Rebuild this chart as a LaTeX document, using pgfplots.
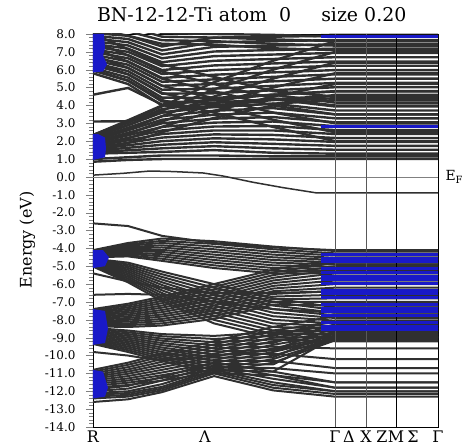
\documentclass[border=0pt]{standalone}
\usepackage{pgfplots}
\pgfplotsset{compat=1.18}
\usepackage{pgfplotstable}
\usepackage{fontspec}
\setmainfont{DejaVu Serif}
\definecolor{fat}{RGB}{25,25,200}
\definecolor{band}{RGB}{48,48,48}

% conduction bands: x, then 52 bands
\pgfplotstableread[header=false]{
0 1.30 1.38 1.46 1.54 1.62 1.70 1.78 1.86 1.94 2.02 2.10 2.18 2.26 2.34 5.80 5.95 6.10 6.25 6.40 6.55 6.70 6.85 7.00 7.15 7.30 7.45 7.60 7.75 7.90 8.05 8.30 8.60 8.90 9.20 9.50 9.80 6.00 6.40 6.80 7.20 7.60 8.00 1.40 1.60 1.80 2.00 2.20 2.35 0.85 1.00 3.10 4.60
35 1.35 1.49 1.63 1.77 1.91 2.05 2.19 2.33 2.47 2.61 2.75 2.89 3.03 3.17 5.20 5.38 5.56 5.74 5.92 6.10 6.28 6.46 6.64 6.82 7.00 7.18 7.36 7.54 7.72 7.90 7.90 8.15 8.40 8.65 8.90 9.15 5.40 5.75 6.10 6.45 6.80 7.15 1.90 2.15 2.40 2.65 2.90 3.10 0.95 1.10 3.12 4.98
69 1.40 1.60 1.80 2.00 2.20 2.40 2.60 2.80 3.00 3.20 3.40 3.60 3.80 4.00 4.00 4.22 4.44 4.66 4.88 5.10 5.32 5.54 5.76 5.98 6.20 6.42 6.64 6.86 7.08 7.30 7.45 7.65 7.85 8.05 8.25 8.45 4.30 4.70 5.10 5.50 5.90 6.30 2.50 2.80 3.10 3.40 3.70 3.95 1.00 1.20 3.60 4.05
121 1.50 1.72 1.94 2.16 2.38 2.60 2.82 3.04 3.26 3.48 3.70 3.92 4.14 4.36 3.90 4.16 4.42 4.68 4.94 5.20 5.46 5.72 5.98 6.24 6.50 6.76 7.02 7.28 7.54 7.80 7.40 7.60 7.80 8.00 8.20 8.40 3.60 4.00 4.40 4.80 5.20 5.60 3.30 3.70 4.10 4.50 4.90 5.30 1.00 1.20 4.00 4.30
180 1.35 1.60 1.85 2.10 2.35 2.60 2.85 3.10 3.35 3.60 3.85 4.10 4.35 4.60 4.10 4.35 4.60 4.85 5.10 5.35 5.60 5.85 6.10 6.35 6.60 6.85 7.10 7.35 7.60 7.85 7.20 7.45 7.70 7.95 8.20 8.45 2.80 3.20 3.60 4.00 4.40 4.80 4.00 4.50 5.00 5.50 6.00 6.50 1.00 1.15 4.30 4.60
242 1.30 1.52 1.74 1.96 2.18 2.40 2.62 2.84 3.06 3.28 3.50 3.72 3.94 4.16 4.30 4.54 4.78 5.02 5.26 5.50 5.74 5.98 6.22 6.46 6.70 6.94 7.18 7.42 7.66 7.90 7.10 7.35 7.60 7.85 8.10 8.35 2.00 2.50 3.00 3.50 4.00 4.50 4.60 5.20 5.80 6.40 7.00 7.60 1.00 1.15 4.40 4.80
345 1.30 1.52 1.74 1.96 2.18 2.40 2.62 2.84 3.06 3.28 3.50 3.72 3.94 4.16 4.30 4.54 4.78 5.02 5.26 5.50 5.74 5.98 6.22 6.46 6.70 6.94 7.18 7.42 7.66 7.90 7.10 7.35 7.60 7.85 8.10 8.35 2.00 2.50 3.00 3.50 4.00 4.50 4.60 5.20 5.80 6.40 7.00 7.60 1.00 1.15 4.40 4.80
}\cond

% valence bands: x, then 43 bands
\pgfplotstableread[header=false]{
0 -2.60 -4.10 -4.18 -4.26 -4.34 -4.42 -4.50 -4.58 -4.66 -4.74 -4.82 -4.90 -4.98 -7.40 -7.55 -7.70 -7.85 -8.00 -8.15 -8.30 -8.45 -8.60 -8.75 -8.90 -9.05 -9.20 -9.35 -10.80 -11.00 -11.20 -11.40 -11.60 -11.80 -11.90 -12.00 -12.10 -12.20 -12.30 -12.40 -12.60 -5.40 -6.60 -9.80
35 -2.75 -3.70 -3.85 -4.00 -4.15 -4.30 -4.45 -4.80 -5.00 -5.20 -5.40 -5.60 -5.80 -7.10 -7.30 -7.50 -7.70 -7.90 -8.10 -8.30 -8.60 -8.80 -9.00 -9.20 -9.40 -9.60 -9.80 -10.40 -10.65 -10.90 -11.15 -11.40 -11.65 -11.70 -11.85 -12.00 -12.10 -12.20 -12.30 -12.45 -5.85 -6.55 -10.00
69 -3.30 -3.45 -3.70 -3.95 -4.20 -4.45 -4.70 -5.30 -5.60 -5.90 -6.20 -6.50 -6.80 -6.70 -6.95 -7.20 -7.45 -7.70 -7.95 -8.20 -8.80 -9.05 -9.30 -9.55 -9.80 -10.05 -10.30 -9.90 -10.20 -10.50 -10.80 -11.10 -11.40 -11.20 -11.40 -11.60 -11.75 -11.85 -11.95 -12.05 -6.20 -6.60 -10.30
121 -3.70 -3.60 -3.90 -4.20 -4.50 -4.80 -5.10 -6.00 -6.40 -6.80 -7.20 -7.60 -8.00 -6.00 -6.30 -6.60 -6.90 -7.20 -7.50 -7.80 -8.90 -9.25 -9.60 -9.95 -10.30 -10.65 -11.00 -9.20 -9.55 -9.90 -10.25 -10.60 -10.95 -10.40 -10.55 -10.70 -10.80 -10.90 -11.00 -11.15 -6.50 -7.00 -10.00
180 -3.95 -3.90 -4.20 -4.50 -4.80 -5.10 -5.40 -6.80 -7.20 -7.60 -8.00 -8.40 -8.80 -5.20 -5.50 -5.80 -6.10 -6.40 -6.70 -7.00 -8.70 -9.10 -9.50 -9.90 -10.30 -10.70 -11.10 -8.40 -8.80 -9.20 -9.60 -10.00 -10.40 -10.90 -11.10 -11.30 -11.50 -11.65 -11.80 -11.95 -6.50 -7.40 -9.70
242 -4.10 -4.15 -4.40 -4.65 -4.90 -5.15 -5.40 -7.30 -7.60 -7.90 -8.20 -8.50 -8.80 -4.60 -5.00 -5.40 -5.80 -6.20 -6.60 -7.00 -8.60 -9.20 -9.60 -10.20 -10.70 -11.00 -11.50 -7.80 -8.30 -8.70 -8.90 -9.05 -9.15 -11.50 -11.80 -11.80 -12.00 -12.00 -12.15 -12.30 -6.40 -7.60 -9.00
345 -4.10 -4.15 -4.40 -4.65 -4.90 -5.15 -5.40 -7.30 -7.60 -7.90 -8.20 -8.50 -8.80 -4.60 -5.00 -5.40 -5.80 -6.20 -6.60 -7.00 -8.60 -9.20 -9.60 -10.20 -10.70 -11.00 -11.50 -7.80 -8.30 -8.70 -8.90 -9.05 -9.15 -11.50 -11.80 -11.80 -12.00 -12.00 -12.15 -12.30 -6.40 -7.60 -9.00
}\val

% further valence bands: x, then 29 bands
\pgfplotstableread[header=false]{
0 -4.14 -4.22 -4.30 -4.38 -4.46 -4.62 -4.70 -4.78 -4.86 -4.94 -5.02 -7.47 -7.62 -7.77 -7.92 -8.07 -8.22 -8.37 -8.52 -8.67 -8.82 -8.97 -9.12 -9.27 -10.90 -11.10 -11.30 -11.50 -11.70
35 -3.78 -3.93 -4.08 -4.23 -4.38 -4.90 -5.10 -5.30 -5.50 -5.70 -5.90 -7.20 -7.40 -7.60 -7.80 -8.00 -8.20 -8.40 -8.70 -8.90 -9.10 -9.30 -9.50 -9.70 -10.52 -10.78 -11.02 -11.28 -11.52
69 -3.58 -3.83 -4.08 -4.33 -4.58 -5.45 -5.75 -6.05 -6.35 -6.65 -6.95 -6.82 -7.07 -7.32 -7.57 -7.82 -8.07 -8.32 -8.92 -9.17 -9.42 -9.67 -9.92 -10.17 -10.05 -10.35 -10.65 -10.95 -11.25
121 -3.75 -4.05 -4.35 -4.65 -4.95 -6.20 -6.60 -7.00 -7.40 -7.80 -8.20 -6.15 -6.45 -6.75 -7.05 -7.35 -7.65 -7.95 -9.07 -9.42 -9.77 -10.12 -10.47 -10.82 -9.38 -9.72 -10.08 -10.42 -10.78
180 -4.05 -4.35 -4.65 -4.95 -5.25 -7.00 -7.40 -7.80 -8.20 -8.60 -9.00 -5.35 -5.65 -5.95 -6.25 -6.55 -6.85 -7.15 -8.90 -9.30 -9.70 -10.10 -10.50 -10.90 -8.60 -9.00 -9.40 -9.80 -10.20
242 -4.28 -4.53 -4.78 -5.03 -5.28 -7.45 -7.75 -8.05 -8.35 -8.65 -8.95 -4.80 -5.20 -5.60 -6.00 -6.40 -6.80 -7.20 -8.05 -8.25 -8.45 -8.65 -8.85 -8.95 -8.10 -8.50 -8.80 -9.00 -9.10
345 -4.28 -4.53 -4.78 -5.03 -5.28 -7.45 -7.75 -8.05 -8.35 -8.65 -8.95 -4.80 -5.20 -5.60 -6.00 -6.40 -6.80 -7.20 -8.05 -8.25 -8.45 -8.65 -8.85 -8.95 -8.10 -8.50 -8.80 -9.00 -9.10
}\valb

\begin{document}
\begin{tikzpicture}
\path[use as bounding box] (-93bp,-19bp) rectangle (376bp,427bp);
\begin{axis}[
  at={(0,0)}, anchor=south west,
  scale only axis, width=345bp, height=393bp,
  xmin=0, xmax=345, ymin=-14, ymax=8,
  clip mode=individual,
  axis line style={black, line width=0.8pt},
  xtick={0,112,242,256,273,289,303,320,345},
  xticklabels={R,Λ,Γ,Δ,X,Z,M,Σ,Γ},
  x tick label style={font=\fontsize{16}{18}\selectfont, yshift=7bp},
  xtick style={draw=none},
  ytick={-14,-13,...,8},
  ytick pos=left, tick align=outside,
  minor y tick num=4,
  major tick length=7bp, minor tick length=4bp,
  yticklabel={\pgfmathprintnumber[fixed,fixed zerofill,precision=1,assume math mode=true]{\tick}},
  y tick label style={font=\fontsize{12}{14}\selectfont, xshift=-7bp},
  ylabel={Energy (eV)},
  ylabel style={font=\fontsize{16}{18}\selectfont, at={(axis description cs:-0.19,0.476)}, anchor=center},
  title={BN-12-12-Ti atom\ \ 0\ \ \ \ \ size 0.20},
  title style={font=\fontsize{19}{21}\selectfont, at={(axis description cs:0.46,1)}, anchor=south, yshift=3bp},
]
\pgfplotsinvokeforeach{1,...,52}{\addplot[band, line width=2.4bp] table[x index=0, y index=#1]{\cond};}
\pgfplotsinvokeforeach{1,...,43}{\addplot[band, line width=2bp] table[x index=0, y index=#1]{\val};}
\pgfplotsinvokeforeach{1,...,29}{\addplot[band, line width=2bp] table[x index=0, y index=#1]{\valb};}
% Fermi level
\addplot[gray, line width=0.8bp] coordinates {(0,0) (345,0)};
% band crossing the Fermi level
\addplot[band, line width=1.5bp] coordinates {(0,0.10) (30,0.20) (57,0.33) (80,0.30) (110,0.22) (130,0.05) (160,-0.30) (190,-0.60) (224,-0.90) (345,-0.90)};
% symmetry lines
\addplot[black!65, line width=1bp] coordinates {(242,-14) (242,8)};
\addplot[black!65, line width=1bp] coordinates {(273,-14) (273,8)};
\addplot[black, line width=1bp] coordinates {(303,-14) (303,8)};
% fat bands at R
\addplot[fill=fat, draw=none] coordinates {(0,5.85) (10,5.9) (14,6.3) (10,6.8) (12,7.2) (11,8) (0,8)};
\addplot[fill=fat, draw=none] coordinates {(0,0.95) (12,1.1) (13,1.6) (12,2.2) (5,2.4) (0,2.4)};
\addplot[fill=fat, draw=none] coordinates {(0,-4.1) (10,-4.1) (16,-4.5) (12,-5.0) (0,-5.1)};
\addplot[fill=fat, draw=none] coordinates {(0,-7.4) (12,-7.5) (15,-8.5) (12,-9.3) (0,-9.4)};
\addplot[fill=fat, draw=none] coordinates {(0,-10.8) (10,-10.9) (15,-11.8) (12,-12.3) (0,-12.4)};
% fat bands on the Gamma-X-M-Gamma path
\addplot[fat, line width=3bp, unbounded coords=jump] coordinates {
(228,-4.35) (345,-4.35) (345,nan)
(228,-4.55) (345,-4.55) (345,nan)
(228,-4.75) (345,-4.75) (345,nan)
(228,-5.15) (345,-5.15) (345,nan)
(228,-5.35) (345,-5.35) (345,nan)
(228,-5.55) (345,-5.55) (345,nan)
(228,-5.75) (345,-5.75) (345,nan)
(228,-5.95) (345,-5.95) (345,nan)
(228,-6.35) (345,-6.35) (345,nan)
(228,-6.55) (345,-6.55) (345,nan)
(228,-6.75) (345,-6.75) (345,nan)
(228,-7.15) (345,-7.15) (345,nan)
(228,-7.35) (345,-7.35) (345,nan)
(228,-7.55) (345,-7.55) (345,nan)
(228,-7.75) (345,-7.75) (345,nan)
(228,-8.15) (345,-8.15) (345,nan)
(228,-8.35) (345,-8.35) (345,nan)
(228,-8.55) (345,-8.55) (345,nan)
(228,7.85) (345,7.85) (345,nan)
(228,2.80) (345,2.80)
};
\node[anchor=west, font=\fontsize{14}{16}\selectfont, xshift=4bp] at (axis cs:345,0) {E\raisebox{-0.5ex}{\fontsize{10}{12}\selectfont F}};
\end{axis}
\end{tikzpicture}
\end{document}
